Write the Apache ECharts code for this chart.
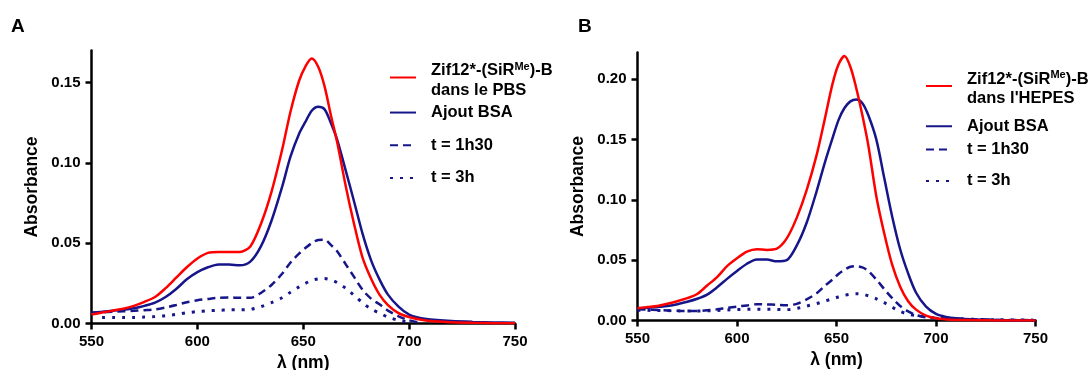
<!DOCTYPE html>
<html>
<head>
<meta charset="utf-8">
<script src="https://cdn.jsdelivr.net/npm/echarts@6/dist/echarts.min.js"></script>
<style>html,body{margin:0;padding:0;background:#fff}#c{width:1090px;height:370px}</style>
</head>
<body>
<div id="c"></div>
<script>
// Wavelength grid (nm), shared by both panels
const wavelengths = [550,555,560,565,570,575,580,585,590,595,600,605,610,615,620,625,630,635,640,644,648,651,654,657,660,663,666,670,674,678,682,686,690,695,700,705,710,720,730,740,750];

// Panel A (PBS)
const aPBS   = [.0056,.0068,.0080,.0092,.0110,.0135,.0165,.0220,.0285,.0350,.0405,.0440,.0446,.0446,.0446,.0480,.0620,.0820,.1080,.1320,.1510,.1600,.1650,.1600,.1480,.1300,.1130,.0860,.0620,.0410,.0280,.0180,.0115,.0065,.0040,.0025,.0015,.0008,.0004,.0002,.0001];
const aBSA   = [.0067,.0073,.0080,.0086,.0095,.0110,.0130,.0165,.0215,.0275,.0320,.0350,.0368,.0368,.0362,.0385,.0480,.0640,.0850,.1040,.1180,.1255,.1325,.1350,.1335,.1250,.1145,.0955,.0760,.0560,.0395,.0275,.0180,.0105,.0055,.0035,.0025,.0015,.0010,.0007,.0004];
const a1h30  = [.0067,.0070,.0073,.0076,.0079,.0083,.0088,.0100,.0115,.0132,.0145,.0153,.0160,.0162,.0160,.0160,.0190,.0240,.0310,.0380,.0435,.0470,.0500,.0520,.0522,.0490,.0450,.0370,.0290,.0210,.0155,.0120,.0080,.0045,.0020,.0005,null,null,null,null,null];
const a3h    = [null,.0037,.0037,.0037,.0037,.0040,.0043,.0048,.0057,.0067,.0074,.0079,.0082,.0085,.0085,.0088,.0105,.0130,.0160,.0195,.0228,.0250,.0268,.0278,.0280,.0272,.0255,.0220,.0175,.0130,.0090,.0065,.0040,.0020,.0008,null,null,null,null,null,null];

// Panel B (HEPES)
const bHEPES = [.0101,.0111,.0121,.0138,.0160,.0185,.0220,.0290,.0360,.0450,.0515,.0570,.0590,.0585,.0595,.0680,.0850,.1080,.1370,.1660,.1960,.2120,.2190,.2100,.1920,.1700,.1450,.1030,.0720,.0460,.0280,.0160,.0090,.0040,.0018,.0009,.0005,.0002,.0001,0,0];
const bBSA   = [.0101,.0106,.0112,.0121,.0135,.0155,.0180,.0215,.0275,.0345,.0410,.0470,.0505,.0505,.0490,.0500,.0620,.0810,.1070,.1300,.1510,.1660,.1760,.1815,.1830,.1800,.1700,.1500,.1180,.0860,.0590,.0390,.0230,.0115,.0055,.0030,.0018,.0008,.0004,.0002,.0002];
const b1h30  = [.0093,.0090,.0086,.0083,.0080,.0079,.0079,.0085,.0093,.0105,.0115,.0125,.0135,.0133,.0130,.0127,.0138,.0175,.0225,.0285,.0340,.0385,.0420,.0445,.0450,.0440,.0410,.0340,.0260,.0185,.0120,.0075,.0045,.0027,.0020,.0015,.0012,.0009,.0006,.0004,.0002];
const b3h    = [.0084,.0084,.0083,.0082,.0080,.0079,.0079,.0081,.0083,.0087,.0091,.0093,.0094,.0093,.0092,.0090,.0100,.0120,.0140,.0160,.0180,.0195,.0208,.0218,.0222,.0218,.0205,.0180,.0148,.0110,.0075,.0052,.0040,.0030,.0022,.0018,.0015,.0010,.0006,.0004,.0003];

// Tick values
const xTicks  = [550,600,650,700,750];
const yTicksA = [0,0.05,0.10,0.15];
const yTicksB = [0,0.05,0.10,0.15,0.20];

// Legend labels
const legendLabels = {
  A0: '{n|Zif12*-(SiR}{s|Me}{n|)-B}\n{n|dans le PBS}',
  A1: 'Ajout BSA', A2: 't = 1h30', A3: 't = 3h',
  B0: "{n|Zif12*-(SiR}{s|Me}{n|)-B}\n{n|dans l'HEPES}",
  B1: 'Ajout BSA', B2: 't = 1h30', B3: 't = 3h'
};

const FONT = '"Liberation Sans", Arial, Helvetica, sans-serif';
const RED = '#ff0000', BLUE = '#16168a';

function pairs(ys){
  const out = [];
  wavelengths.forEach((x,i)=>{ if (ys[i] !== null) out.push([x, ys[i]]); });
  return out;
}
function xAxis(gi){
  return {
    type:'value', gridIndex:gi, min:550, max:750, interval:50,
    axisLine:{show:true, onZero:false, lineStyle:{color:'#000', width:2.5}},
    axisTick:{show:true, length:6, customValues:xTicks, lineStyle:{color:'#000', width:2.5}},
    axisLabel:{color:'#000', fontFamily:FONT, fontWeight:'bold', fontSize:15, margin:11, customValues:xTicks},
    splitLine:{show:false},
    name:'λ (nm)', nameLocation:'middle', nameGap:30,
    nameTextStyle:{color:'#000', fontFamily:FONT, fontWeight:'bold', fontSize:17.5}
  };
}
function yAxis(gi, max, ticks){
  return {
    type:'value', gridIndex:gi, min:0, max:max,
    axisLine:{show:true, lineStyle:{color:'#000', width:2.5}},
    axisTick:{show:true, length:6, customValues:ticks, lineStyle:{color:'#000', width:2.5}},
    axisLabel:{color:'#000', fontFamily:FONT, fontWeight:'bold', fontSize:15, margin:11,
               customValues:ticks, formatter:v=>v.toFixed(2)},
    splitLine:{show:false},
    name:'Absorbance', nameLocation:'middle', nameGap:50,
    nameTextStyle:{color:'#000', fontFamily:FONT, fontWeight:'bold', fontSize:17.5}
  };
}
function line(name, gi, ys, color, type, width){
  return {
    name, type:'line', xAxisIndex:gi, yAxisIndex:gi, data:pairs(ys),
    symbol:'none', showSymbol:false, smooth:0.3,
    lineStyle:{color, width, type}, itemStyle:{color}
  };
}
const rich = {
  n:{fontFamily:FONT, fontWeight:'bold', fontSize:16.5, color:'#000', lineHeight:19.5},
  s:{fontFamily:FONT, fontWeight:'bold', fontSize:11, color:'#000', lineHeight:11, verticalAlign:'top'}
};
function leg(name, left, top, twoLine){
  return {
    data:[name], left, top, padding:0, itemWidth:26, itemHeight:14, selectedMode:false,
    itemStyle:{opacity:0},
    formatter:n=>legendLabels[n],
    textStyle:{fontFamily:FONT, fontWeight:'bold', fontSize:16.5, color:'#000', lineHeight:19.5,
               padding: twoLine ? [6,0,0,10] : [0,0,0,10], rich}
  };
}

const chart = echarts.init(document.getElementById('c'), null, {renderer:'canvas'});
chart.setOption({
  backgroundColor:'#fff',
  animation:false,
  title:[
    {text:'A', left:11, top:17, padding:0, textStyle:{fontFamily:FONT, fontWeight:'bold', fontSize:19, color:'#000'}},
    {text:'B', left:578, top:17, padding:0, textStyle:{fontFamily:FONT, fontWeight:'bold', fontSize:19, color:'#000'}}
  ],
  grid:[
    {left:91.5, right:575, top:50.5, bottom:46.5, containLabel:false, outerBoundsMode:'none'},
    {left:637.5, right:54.5, top:52.5, bottom:49.5, containLabel:false, outerBoundsMode:'none'}
  ],
  xAxis:[xAxis(0), xAxis(1)],
  yAxis:[yAxis(0, 0.17, yTicksA), yAxis(1, 0.222, yTicksB)],
  legend:[
    leg('A0', 389, 55, true), leg('A1', 389, 102.8), leg('A2', 389, 135.5), leg('A3', 389, 168.2),
    leg('B0', 925, 63.5, true), leg('B1', 925, 116.5), leg('B2', 925, 139.8), leg('B3', 925, 171.2)
  ],
  series:[
    line('A3', 0, a3h, BLUE, [3,7], 3),
    line('A2', 0, a1h30, BLUE, [8,5], 2.5),
    line('A1', 0, aBSA, BLUE, 'solid', 2.5),
    line('A0', 0, aPBS, RED, 'solid', 2.5),
    line('B3', 1, b3h, BLUE, [3,7], 3),
    line('B2', 1, b1h30, BLUE, [8,5], 2.5),
    line('B1', 1, bBSA, BLUE, 'solid', 2.5),
    line('B0', 1, bHEPES, RED, 'solid', 2.5)
  ]
});
</script>
</body>
</html>
